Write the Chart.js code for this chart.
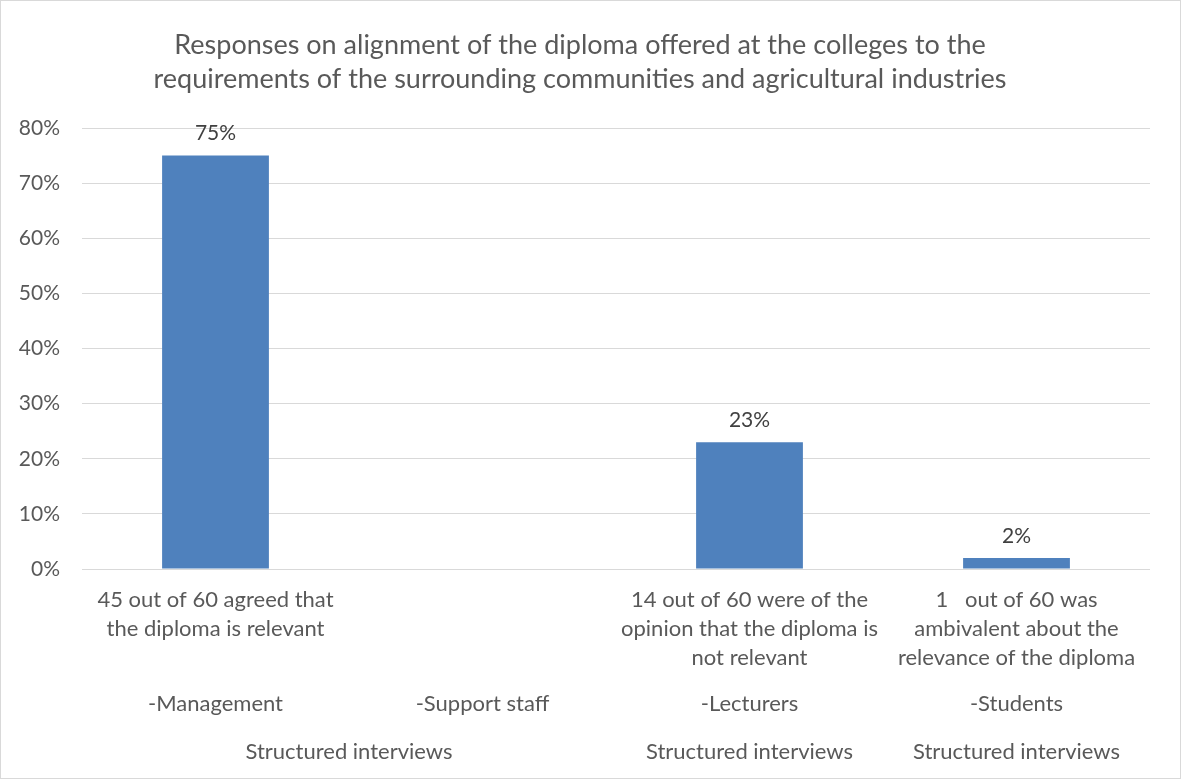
<!DOCTYPE html>
<html>
<head>
<meta charset="utf-8">
<script src="https://cdn.jsdelivr.net/npm/chart.js@4.4.0/dist/chart.umd.min.js"></script>
<style>
  body { margin: 0; background: #fff; }
  #contenedor { width: 1181px; height: 779px; }
</style>
</head>
<body>
<div id="contenedor"><canvas id="graficoDiploma"></canvas></div>
<script>
// Datos del gráfico
const respuestas = [
  ['45 out of 60 agreed that', 'the diploma is relevant'],
  [],
  ['14 out of 60 were of the', 'opinion that the diploma is', 'not relevant'],
  ['1   out of 60 was', 'ambivalent about the', 'relevance of the diploma']
];
const grupos = ['-Management', '-Support staff', '-Lecturers', '-Students'];
const metodos = ['Structured interviews', 'Structured interviews', 'Structured interviews'];
const metodosDesde = [0, 2, 3];
const metodosHasta = [1, 2, 3];
const porcentajes = [75, null, 23, 2];
const ticksY = [0, 10, 20, 30, 40, 50, 60, 70, 80];

const colorTexto = '#595959';
const fuente = 'Lato, "Open Sans", sans-serif';

// Plugin para el borde, las etiquetas de datos y el eje de varios niveles
const extras = {
  id: 'extras',
  beforeDraw(chart) {
    const ctx = chart.ctx;
    ctx.save();
    ctx.fillStyle = '#fff';
    ctx.fillRect(0, 0, chart.width, chart.height);
    ctx.strokeStyle = '#d9d9d9';
    ctx.lineWidth = 1;
    ctx.strokeRect(0.5, 0.5, chart.width - 1, chart.height - 1);
    ctx.restore();
  },
  afterDraw(chart) {
    const ctx = chart.ctx;
    const x = chart.scales.x;
    const base = chart.chartArea.bottom;
    ctx.save();
    ctx.textAlign = 'center';
    ctx.textBaseline = 'middle';

    // etiquetas encima de las barras
    ctx.font = '21px ' + fuente;
    ctx.fillStyle = '#404040';
    chart.getDatasetMeta(0).data.forEach((barra, i) => {
      if (porcentajes[i] == null) return;
      ctx.fillText(porcentajes[i] + '%', barra.x, barra.y - 22);
    });

    // nivel 1
    ctx.font = '22px ' + fuente;
    ctx.fillStyle = colorTexto;
    respuestas.forEach((lineas, i) => {
      const cx = x.getPixelForValue(i);
      lineas.forEach((l, j) => ctx.fillText(l, cx, base + 31 + j * 29));
    });
    // nivel 2
    grupos.forEach((g, i) => {
      ctx.fillText(g, x.getPixelForValue(i), base + 135);
    });
    // nivel 3
    metodos.forEach((m, i) => {
      const cx = (x.getPixelForValue(metodosDesde[i]) + x.getPixelForValue(metodosHasta[i])) / 2;
      ctx.fillText(m, cx, base + 183);
    });
    ctx.restore();
  }
};

const ctxDiploma = document.getElementById('graficoDiploma').getContext('2d');
new Chart(ctxDiploma, {
  type: 'bar',
  data: {
    labels: grupos,
    datasets: [{
      label: 'Responses',
      data: porcentajes,
      backgroundColor: '#4f81bd',
      categoryPercentage: 1,
      barPercentage: 0.4
    }]
  },
  options: {
    responsive: true,
    maintainAspectRatio: false,
    animation: false,
    layout: { padding: { left: 10, right: 31, top: 0, bottom: 202 } },
    plugins: {
      legend: { display: false },
      tooltip: { enabled: false },
      title: {
        display: true,
        text: [
          'Responses on alignment of the diploma offered at the colleges to the',
          'requirements of the surrounding communities and agricultural industries'
        ],
        color: colorTexto,
        font: { family: fuente, size: 27, weight: 'normal', lineHeight: 1.26 },
        padding: { top: 28, bottom: 32 }
      }
    },
    scales: {
      x: {
        grid: { display: false },
        border: { display: false },
        ticks: { display: false }
      },
      y: {
        min: 0,
        max: 80,
        afterFit(scale) { scale.width = 72; },
        afterBuildTicks(scale) { scale.ticks = ticksY.map(v => ({ value: v })); },
        grid: { color: '#d9d9d9', drawTicks: false },
        border: { display: false },
        ticks: {
          color: colorTexto,
          padding: 22,
          font: { family: fuente, size: 21 },
          callback: v => v + '%'
        }
      }
    }
  },
  plugins: [extras]
});
</script>
</body>
</html>
